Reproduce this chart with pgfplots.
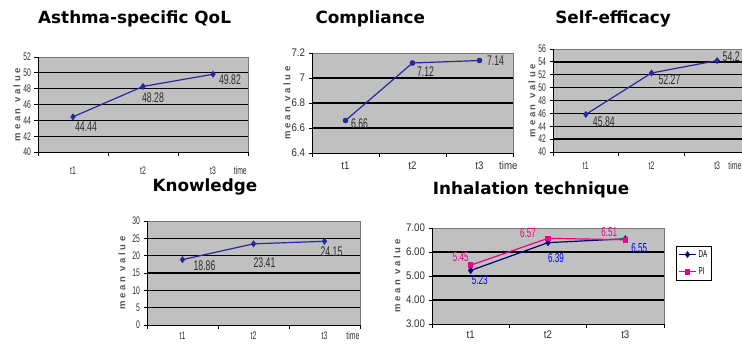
\documentclass[border=0pt]{standalone}
\usepackage{fontspec}
\setmainfont{Liberation Sans}
\newfontfamily\titlefont{DejaVu Sans}
\newfontfamily\narrowfont[FakeStretch=0.62]{Liberation Sans}
\newfontfamily\midfont[FakeStretch=0.88]{Liberation Sans}
\newfontfamily\ylabfont[LetterSpace=28]{Liberation Sans}
\usepackage{pgfplots}
\pgfplotsset{compat=1.18}
\definecolor{plotbg}{RGB}{192,192,192}
\definecolor{lineblue}{RGB}{40,40,160}
\definecolor{navyc}{RGB}{0,0,128}
\definecolor{tickgray}{RGB}{45,45,45}
\definecolor{labgray}{RGB}{85,85,85}
\definecolor{frame}{RGB}{120,120,120}
\pgfplotsset{
  excel/.style={
    scale only axis,
    clip=false,
    axis background/.style={fill=plotbg, draw=frame, line width=0.6pt},
    axis x line*=bottom, axis y line*=left,
    axis line style={black, line width=0.9pt, -},
    xmin=0.5, xmax=3.5,
    xtick={0.5,1.5,2.5,3.5}, xticklabels={},
    tick align=outside, major tick length=3.5pt,
    tick style={black, line width=0.8pt},
    tick label style={font=\narrowfont\fontsize{11}{11}\selectfont, text=tickgray},
    /pgf/number format/assume math mode=true,
    extra x tick labels={t1,t2,t3,time},
    extra y tick labels={},
    extra y tick style={grid=major, major tick length=0pt},
    major grid style={black, line width=1.3pt},
    title style={font=\titlefont\bfseries\fontsize{16.8}{18}\selectfont, anchor=center},
    ylabel={mean value},
    ylabel style={font=\ylabfont\bfseries\fontsize{9.5}{9.5}\selectfont, text=labgray, anchor=center},
  },
  datalabels/.style={
    nodes near coords, point meta=explicit symbolic,
    visualization depends on={value \thisrow{dx} \as \dx},
    visualization depends on={value \thisrow{dy} \as \dy},
    every node near coord/.append style={anchor=center, inner sep=0pt, xshift=\dx pt, yshift=\dy pt, font=\narrowfont\fontsize{14}{14}\selectfont, text=#1},
  },
}
\begin{document}
\begin{tikzpicture}
\path[use as bounding box] (0pt,0pt) rectangle (742pt,-343pt);

% Asthma-specific QoL
\begin{axis}[excel, at={(38pt,-152pt)}, anchor=south west, width=210pt, height=95pt,
  ymin=40, ymax=52, ytick={40,42,...,52}, extra y ticks={42,44,...,50},
  extra x ticks={1,2,3,3.39}, extra x tick style={major tick length=0pt, xticklabel style={yshift=-11pt}},
  title={Asthma-specific QoL}, title style={at={(axis description cs:0.46,1.337)}},
  ylabel style={at={(axis description cs:-0.1,0.5)}}]
\addplot[lineblue, line width=1.2pt, mark=diamond*, mark size=2.6pt, datalabels=tickgray]
 table[x=x, y=y, meta=y] {
x y dx dy
1 44.44 13 -10
2 48.28 10 -11
3 49.82 17 -5
};
\end{axis}

% Compliance
\begin{axis}[excel, at={(312pt,-153pt)}, anchor=south west, width=201pt, height=100pt,
  ymin=6.4, ymax=7.2, ytick={6.4,6.6,6.8,7.0,7.2}, yticklabels={6.4,6.6,6.8,7,7.2}, extra y ticks={6.6,6.8,7.0},
  tick label style={font=\midfont\fontsize{11}{11}\selectfont},
  extra x ticks={1,2,3,3.43}, extra x tick style={major tick length=0pt, xticklabel style={yshift=-5pt}},
  title={Compliance}, title style={at={(axis description cs:0.29,1.28)}},
  ylabel style={at={(axis description cs:-0.124,0.5)}}]
\addplot[lineblue, line width=1.2pt, mark=*, mark size=2.2pt, datalabels=tickgray]
 table[x=x, y=y, meta=y] {
x y dx dy
1 6.66 14 -3
2 7.12 13 -9
3 7.14 16 0
};
\end{axis}

% Self-efficacy
\begin{axis}[excel, at={(553pt,-152pt)}, anchor=south west, width=197pt, height=103pt,
  ymin=40, ymax=56, ytick={40,42,...,56}, extra y ticks={42,44,...,54},
  extra x ticks={1,2,3,3.27}, extra x tick style={major tick length=0pt, xticklabel style={yshift=-6pt}},
  title={Self-efficacy}, title style={at={(axis description cs:0.305,1.233)}},
  ylabel style={at={(axis description cs:-0.107,0.5)}}]
\addplot[lineblue, line width=1.2pt, mark=diamond*, mark size=2.6pt, datalabels=tickgray]
 table[x=x, y=y, meta=y] {
x y dx dy
1 45.84 18 -7
2 52.27 18 -7
3 54.2 14 4
};
\end{axis}

% Knowledge
\begin{axis}[excel, at={(147pt,-325pt)}, anchor=south west, width=213pt, height=104pt,
  ymin=0, ymax=30, ytick={0,5,...,30}, extra y ticks={5,10,...,25},
  extra x ticks={1,2,3,3.4}, extra x tick style={major tick length=0pt, xticklabel style={yshift=-3pt}},
  title={Knowledge}, title style={at={(axis description cs:0.272,1.27)}},
  ylabel style={at={(axis description cs:-0.117,0.5)}}]
\addplot[lineblue, line width=1.2pt, mark=diamond*, mark size=2.6pt, datalabels=tickgray]
 table[x=x, y=y, meta=y] {
x y dx dy
1 18.86 22 -6
2 23.41 11 -19
3 24.15 7 -10
};
\end{axis}

% Inhalation technique
\begin{axis}[excel, at={(432pt,-324pt)}, anchor=south west, width=232pt, height=96pt,
  ymin=3, ymax=7, ytick={3,4,5,6,7}, extra y ticks={4,5,6},
  yticklabel style={/pgf/number format/.cd, fixed, fixed zerofill, precision=2},
  tick label style={font=\midfont\fontsize{11}{11}\selectfont},
  extra x ticks={1,2,3,3.62}, extra x tick style={major tick length=0pt, xticklabel style={yshift=-3pt}},
  title={Inhalation technique}, title style={at={(axis description cs:0.427,1.333)}},
  ylabel style={at={(axis description cs:-0.151,0.5)}},
  legend style={at={(1.052,0.8125)}, anchor=north west, draw=black, line width=0.8pt, fill=white,
    font=\narrowfont\fontsize{10}{10}\selectfont, inner sep=2pt, row sep=5pt},
  legend cell align=left, legend image post style={line width=1pt}]
\addplot[navyc, line width=1.2pt, mark=diamond*, mark size=2.6pt,
  datalabels=blue, every node near coord/.append style={font=\narrowfont\fontsize{13}{13}\selectfont}]
 table[x=x, y=y, meta=y] {
x y dx dy
1 5.23 9 -10
2 6.39 8 -15
3 6.55 14 -9
};
\addlegendentry{DA}
\addplot[magenta, line width=1.2pt, mark=square*, mark size=2.2pt,
  datalabels=magenta, every node near coord/.append style={font=\narrowfont\fontsize{13}{13}\selectfont}]
 table[x=x, y=y, meta=y] {
x y dx dy
1 5.45 -10 8
2 6.57 -20 5
3 6.51 -16 8
};
\addlegendentry{PI}
\end{axis}
\end{tikzpicture}
\end{document}
